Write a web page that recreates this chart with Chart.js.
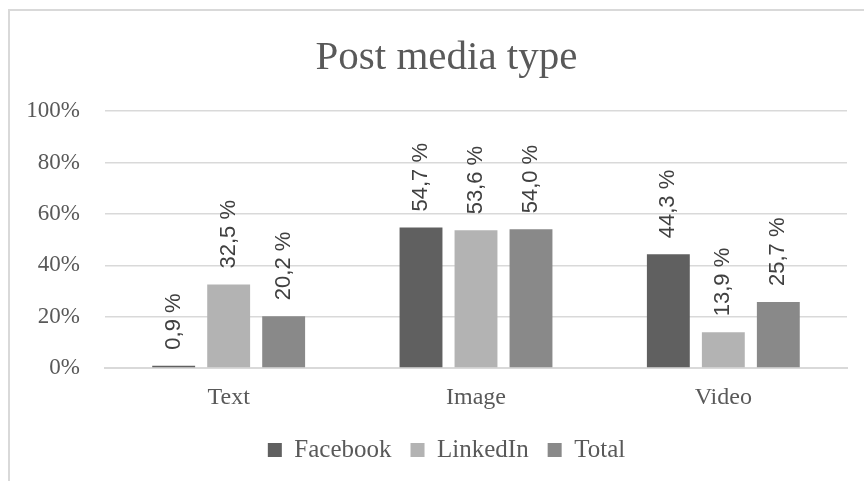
<!DOCTYPE html>
<html>
<head>
<meta charset="utf-8">
<script src="https://cdn.jsdelivr.net/npm/chart.js@4.4.1/dist/chart.umd.min.js"></script>
<style>
  html, body { margin: 0; padding: 0; background: #ffffff; overflow: hidden; }
  #wrap { position: relative; width: 864px; height: 481px; overflow: hidden; }
  #frame { position: absolute; left: 8px; top: 9px; width: 900px; height: 520px;
           border-left: 2px solid #d9d9d9; border-top: 2px solid #d9d9d9; box-sizing: border-box; }
  #c { position: absolute; left: 0; top: 0; }
</style>
</head>
<body>
<div id="wrap">
  <div id="frame"></div>
  <canvas id="c" width="893" height="481"></canvas>
</div>
<script>
const categories = ["Text", "Image", "Video"];
const seriesNames = ["Facebook", "LinkedIn", "Total"];
const facebook = [0.9, 54.7, 44.3];
const linkedin = [32.5, 53.6, 13.9];
const total = [20.2, 54.0, 25.7];
const yTicks = [0, 20, 40, 60, 80, 100];
const seriesColors = ["#606060", "#b3b3b3", "#898989"];

const serif = "'Liberation Serif', 'DejaVu Serif', serif";
const sans = "'Liberation Sans', Arial, sans-serif";
const textColor = "#595959";

const dataLabelPlugin = {
  id: "dataLabels",
  afterDatasetsDraw(chart) {
    const ctx = chart.ctx;
    ctx.save();
    ctx.font = "22px " + sans;
    ctx.fillStyle = "#404040";
    ctx.textAlign = "left";
    ctx.textBaseline = "middle";
    chart.data.datasets.forEach((ds, di) => {
      const meta = chart.getDatasetMeta(di);
      meta.data.forEach((bar, i) => {
        const txt = ds.data[i].toFixed(1).replace(".", ",") + " %";
        ctx.save();
        ctx.translate(bar.x, bar.y - 16);
        ctx.rotate(-Math.PI / 2);
        ctx.fillText(txt, 0, 0);
        ctx.restore();
      });
    });
    ctx.restore();
  }
};

new Chart(document.getElementById("c"), {
  type: "bar",
  data: {
    labels: categories,
    datasets: [
      { label: seriesNames[0], data: facebook, backgroundColor: seriesColors[0] },
      { label: seriesNames[1], data: linkedin, backgroundColor: seriesColors[1] },
      { label: seriesNames[2], data: total, backgroundColor: seriesColors[2] }
    ]
  },
  options: {
    responsive: false,
    animation: false,
    devicePixelRatio: 1,
    layout: { padding: { left: 0, right: 0, top: 0, bottom: 8.5 } },
    datasets: { bar: { categoryPercentage: 0.667, barPercentage: 0.78 } },
    plugins: {
      title: {
        display: true,
        text: "Post media type",
        color: textColor,
        font: { family: serif, size: 41, weight: "normal" },
        padding: { top: 34, bottom: 28 }
      },
      legend: {
        position: "bottom",
        labels: {
          color: textColor,
          font: { family: serif, size: 25 },
          boxWidth: 14,
          boxHeight: 14,
          padding: 19
        }
      },
      tooltip: { enabled: false }
    },
    scales: {
      x: {
        afterFit(scale) { scale.height = 50.5; },
        grid: { display: false, drawTicks: false },
        border: { display: true, color: "#d9d9d9", width: 2 },
        ticks: { color: textColor, font: { family: serif, size: 24 }, padding: 15 }
      },
      y: {
        min: 0,
        max: 100,
        afterFit(scale) { scale.width = 105; },
        afterBuildTicks(scale) { scale.ticks = yTicks.map(v => ({ value: v })); },
        grid: { color: "#d9d9d9", lineWidth: 1.5, drawTicks: false },
        border: { display: false },
        ticks: {
          color: textColor,
          font: { family: serif, size: 23 },
          padding: 25,
          callback: v => v + "%"
        }
      },
      ySpacer: {
        position: "right",
        min: 0,
        max: 100,
        afterFit(scale) { scale.width = 46; },
        grid: { display: false, drawTicks: false },
        border: { display: false },
        ticks: { display: false }
      }
    }
  },
  plugins: [dataLabelPlugin]
});
</script>
</body>
</html>
